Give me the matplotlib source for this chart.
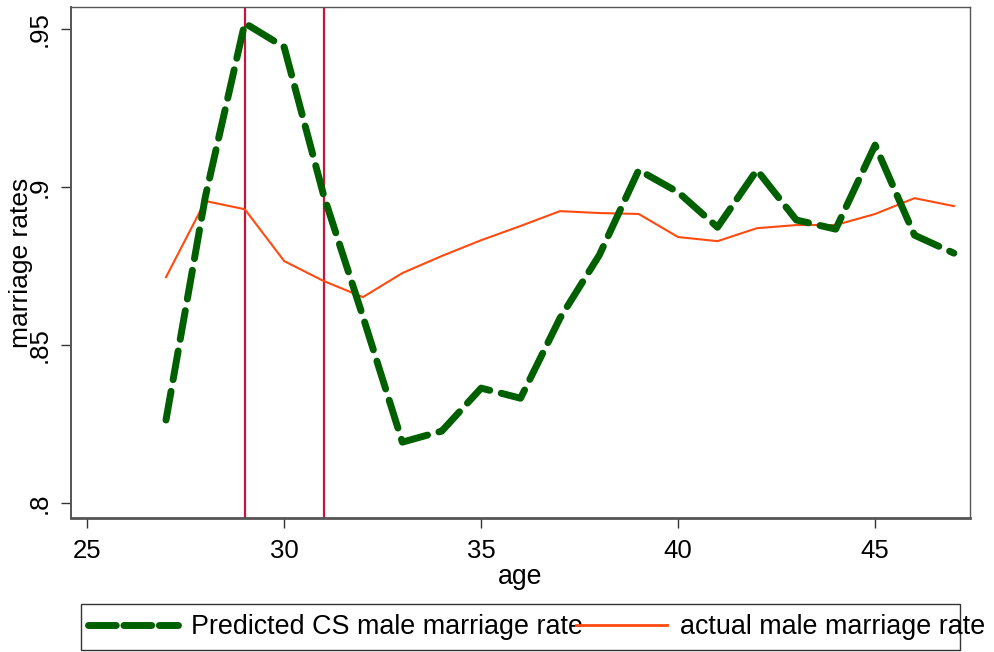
import numpy as np
import matplotlib.pyplot as plt
from matplotlib.lines import Line2D
from matplotlib.patches import Rectangle

plt.rcParams['font.family'] = ['Liberation Sans', 'DejaVu Sans']

ages = list(range(27, 48))
predicted = [0.8263, 0.8970, 0.9519, 0.9443, 0.8975, 0.8590, 0.8193, 0.8228,
             0.8364, 0.8332, 0.8585, 0.8785, 0.9054, 0.8984, 0.8873, 0.9054,
             0.8896, 0.8867, 0.9133, 0.8848, 0.8791]
actual = [0.8715, 0.8956, 0.8930, 0.8766, 0.8703, 0.8652, 0.8728, 0.8782,
          0.8832, 0.8877, 0.8924, 0.8918, 0.8915, 0.8842, 0.8829, 0.8870,
          0.8880, 0.8880, 0.8915, 0.8965, 0.8940]
vlines = [29, 31]
xticks = [25, 30, 35, 40, 45]
yticks = [0.80, 0.85, 0.90, 0.95]
ytick_labels = ['.8', '.85', '.9', '.95']

green = '#006000'
orange = '#FF4A10'
crimson = '#C8143C'

fig = plt.figure(figsize=(9.95, 6.52), dpi=100)
ax = fig.add_axes([0.0714, 0.2055, 0.9035, 0.7838])

for v in vlines:
    ax.axvline(v, color=crimson, lw=1.6, zorder=1)

pl, = ax.plot(ages, predicted, color=green, lw=5, solid_capstyle='round',
              dash_capstyle='round', zorder=3)
pl.set_dashes((4.2, 1.7))
al, = ax.plot(ages, actual, color=orange, lw=1.5, zorder=2)

ax.set_xlim(24.59, 47.41)
ax.set_ylim(0.7953, 0.957)
ax.set_xticks(xticks)
ax.set_yticks(yticks)
ax.set_yticklabels(ytick_labels, rotation=90, va='center')
ax.tick_params(axis='both', direction='out', length=7, width=1.0,
               color='#333333', labelsize=18.5, pad=7)
ax.tick_params(axis='x', pad=8)

for s in ax.spines.values():
    s.set_color('#555555')
    s.set_linewidth(1.0)
ax.spines['left'].set_linewidth(1.4)
ax.spines['bottom'].set_linewidth(2.0)

ax.set_xlabel('age', fontsize=19.2, labelpad=1)
ax.set_ylabel('marriage rates', fontsize=19, labelpad=-4)

h1 = Line2D([], [], color=green, lw=5, dash_capstyle='round')
h1.set_dashes((4.0, 1.1))
h2 = Line2D([], [], color=orange, lw=2)
leg = fig.legend([h1, h2],
                 ['Predicted CS male marriage rate', 'actual male marriage rate'],
                 loc='center left', bbox_to_anchor=(0.0884, 0.0383),
                 ncol=2, frameon=False, handlelength=3.35,
                 handletextpad=0.49, columnspacing=-0.26, borderpad=0.0,
                 borderaxespad=0.0, prop={'size': 19.4})

# legend box, narrower than its text
fig.patches.append(Rectangle((0.0814, 0.0031), 0.8834, 0.0706,
                             transform=fig.transFigure, fill=False,
                             edgecolor='#333333', lw=1.0, zorder=0))

fig.savefig('out.png', dpi=100)
